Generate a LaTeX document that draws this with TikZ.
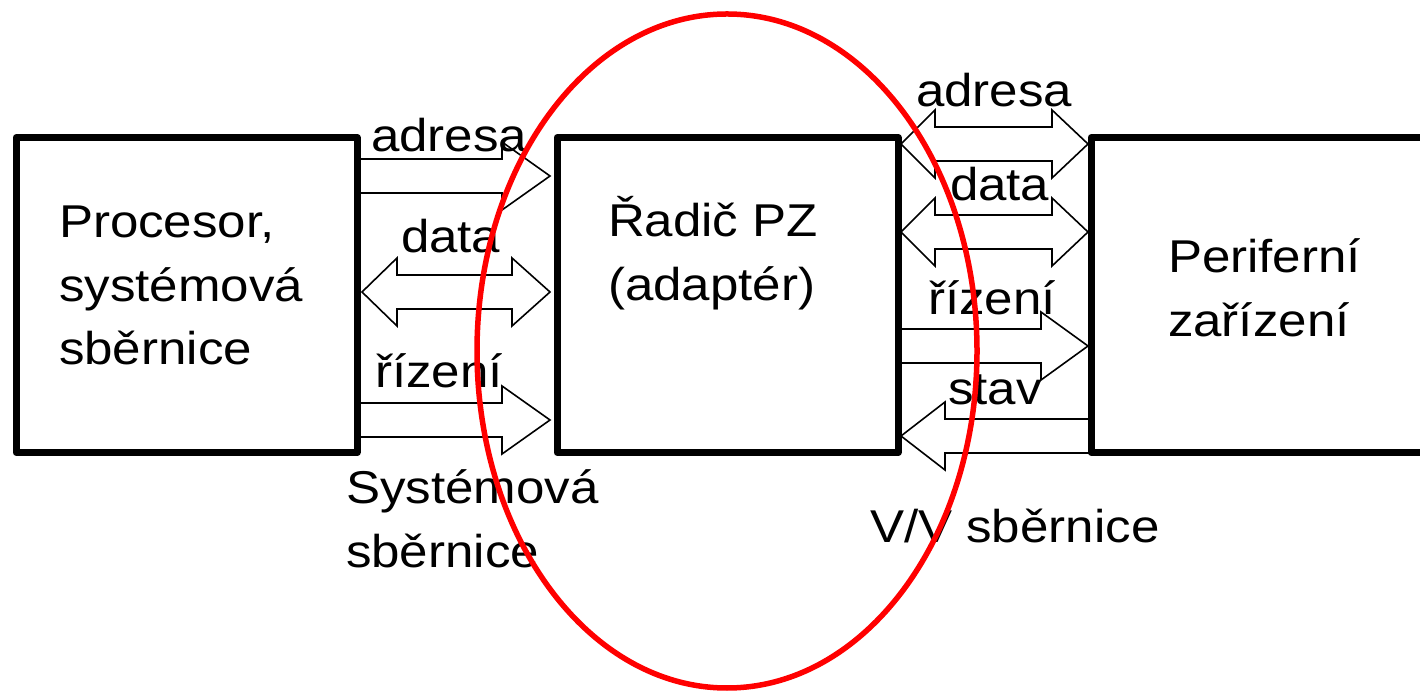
\documentclass[tikz,border=0pt]{standalone}
\usepackage{fontspec}
\setmainfont[FakeStretch=1.11]{Liberation Sans}
\usetikzlibrary{calc}
\pgfdeclarelayer{background}
\pgfsetlayers{background,main}
\tikzset{
  box/.style={draw, line width=7pt, line join=round, minimum width=341pt, minimum height=315pt, inner sep=0pt, outer sep=0pt},
  lbl/.style={inner sep=0pt, outer sep=0pt, anchor=base west, font=\fontsize{46}{63.5}\selectfont},
  blk/.style={draw=black, fill=white, line width=1.6pt, line join=miter},
  ring/.style={draw=red, line width=5.5pt}
}
% single block arrow: start x, tip x, head length (signed), centre y
\newcommand\sarr[4]{({#1},{#4+17}) -- ({#2-(#3)},{#4+17}) -- ({#2-(#3)},{#4+34}) -- ({#2},{#4}) -- ({#2-(#3)},{#4-34}) -- ({#2-(#3)},{#4-17}) -- ({#1},{#4-17}) -- cycle}
% double block arrow: left tip, right tip, left head len, right head len, centre y
\newcommand\darr[5]{({#1},{#5}) -- ({#1+#3},{#5+34}) -- ({#1+#3},{#5+17}) -- ({#2-#4},{#5+17}) -- ({#2-#4},{#5+34}) -- ({#2},{#5}) -- ({#2-#4},{#5-34}) -- ({#2-#4},{#5-17}) -- ({#1+#3},{#5-17}) -- ({#1+#3},{#5-34}) -- cycle}
\begin{document}
\begin{tikzpicture}[x=1pt,y=1pt]
\clip (0,0) rectangle (1420,690);
\useasboundingbox (0,0) rectangle (1420,690);
% boxes
\node[box] (L) at (186.5,395) {};
\node[box] (M) at (727.5,395) {};
\node[box] (R) at (1261.5,395) {};
% box texts
\node[lbl] (Lt) at (59,452) {\begin{tabular}[t]{@{}l@{}}Procesor,\\systémová\\sběrnice\end{tabular}};
\node[lbl] (Mt) at (608,453) {\begin{tabular}[t]{@{}l@{}}Řadič PZ\\(adaptér)\end{tabular}};
\node[lbl] (Rt) at (1168,417) {\begin{tabular}[t]{@{}l@{}}Periferní\\zařízení\end{tabular}};
% block arrows (behind boxes)
\begin{pgfonlayer}{background}
\draw[blk] let \p1=(L.east), \p2=(M.west) in \sarr{\x1}{\x2-7}{48}{514};
\draw[blk] let \p1=(L.east), \p2=(M.west) in \darr{\x1+5}{\x2-7}{35}{38}{398};
\draw[blk] let \p1=(L.east), \p2=(M.west) in \sarr{\x1}{\x2-7}{48}{270};
\draw[blk] let \p1=(M.east), \p2=(R.west) in \darr{\x1+3}{\x2-3}{34}{36}{546};
\draw[blk] let \p1=(M.east), \p2=(R.west) in \darr{\x1+3}{\x2-3}{34}{36}{458};
\draw[blk] let \p1=(M.east), \p2=(R.west) in \sarr{\x1}{\x2-3}{47}{344};
\draw[blk] let \p1=(R.west), \p2=(M.east) in \sarr{\x1}{\x2+3}{-44}{254};
\end{pgfonlayer}
% arrow labels
\node[lbl] (a1) at (371,538) {adresa};
\node[lbl] (d1) at (401,437) {data};
\node[lbl] (r1) at (375,302) {řízení};
\node[lbl] (a2) at (916,583) {adresa};
\node[lbl] (d2) at (950,489) {data};
\node[lbl] (r2) at (928,375) {řízení};
\node[lbl] (s2) at (948,285) {stav};
% bus labels
\node[lbl] (sb) at (346,186) {\begin{tabular}[t]{@{}l@{}}Systémová\\sběrnice\end{tabular}};
\node[lbl] (vv) at (870,147) {V/V sběrnice};
% red ellipse
\draw[ring] (727,339) ellipse [x radius=250, y radius=337];
\end{tikzpicture}
\end{document}
